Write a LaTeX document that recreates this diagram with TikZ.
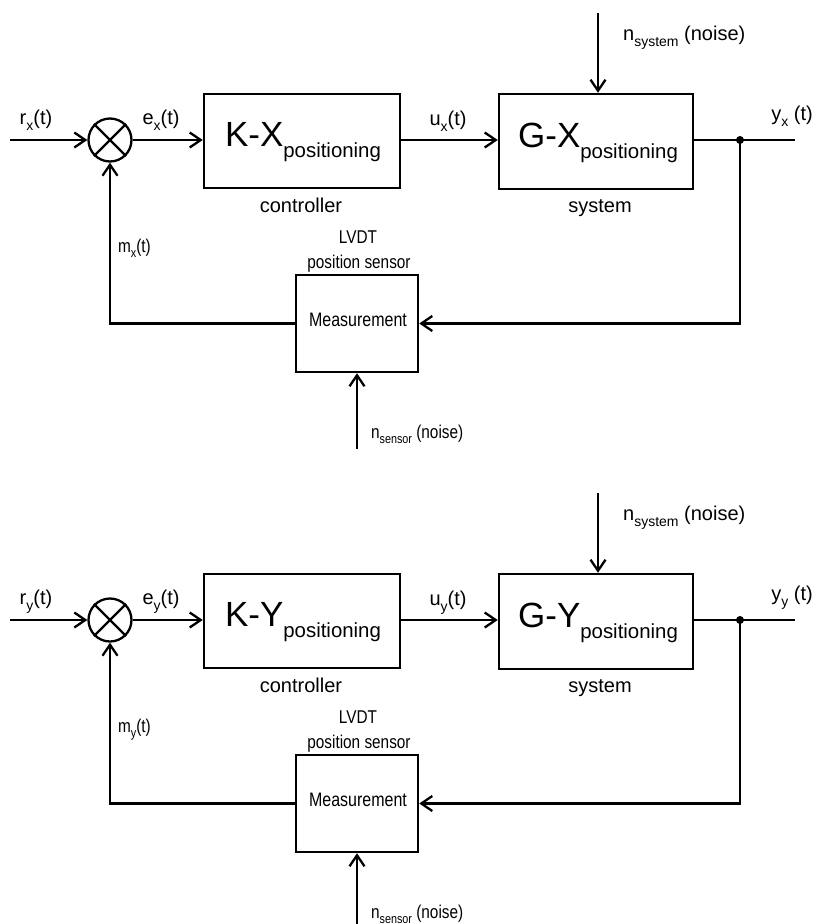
\documentclass[tikz,border=0pt]{standalone}
\usepackage{fontspec}
\setmainfont{Liberation Sans}
\usetikzlibrary{arrows.meta}
\newcommand\bigfs{\fontsize{20}{24}\selectfont}
\newcommand\smfs{\fontsize{18.5}{22}\selectfont}
\newcommand\sbA[1]{\raisebox{-6pt}{\fontsize{14}{16}\selectfont #1}}
\newcommand\sbB[1]{\raisebox{-5pt}{\fontsize{13}{15}\selectfont #1}}
\newcommand\narrow[1]{\scalebox{0.83}[1]{#1}}
\newcommand\blockname[2]{{\fontsize{35}{40}\selectfont #1}\raisebox{-11pt}{\fontsize{20.4}{24}\selectfont #2}}
\begin{document}
\begin{tikzpicture}[x=1pt,y=-1pt,
  line width=2.3pt,
  arr/.style={-{Straight Barb[length=11pt,width=15pt,line width=2.3pt]}},
  blk/.style={draw, line width=2.5pt, inner sep=0pt},
  lbl/.style={inner sep=0pt, anchor=base, font=\bigfs},
  slbl/.style={inner sep=0pt, anchor=base, font=\smfs}]
\useasboundingbox (0,0) rectangle (815,924);
\foreach \s/\U/\l/\dy in {a/X/x/0,b/Y/y/480}{
 \begin{scope}[shift={(0,\dy)}]
  \node[circle,draw,minimum size=43pt,inner sep=0pt] (sum\s) at (110,140) {};
  \draw (sum\s.north west) -- (sum\s.south east) (sum\s.north east) -- (sum\s.south west);
  \coordinate (in\s) at (10,140);
  \node[blk,minimum width=196pt,minimum height=94pt] (K\s) at (302,141) {};
  \node[inner sep=0pt,anchor=base] (Kt\s) at (303,146) {\blockname{K-\U}{positioning}};
  \node[blk,minimum width=194pt,minimum height=95pt] (G\s) at (596,141.5) {};
  \node[inner sep=0pt,anchor=base] (Gt\s) at (598,147) {\blockname{G-\U}{positioning}};
  \coordinate (ns\s) at (598,13);
  \coordinate (dot\s) at (740,140);
  \coordinate (out\s) at (795,140);
  \node[blk,minimum width=122pt,minimum height=97pt] (M\s) at (357,323.5) {};
  \coordinate (nsen\s) at (357,449);
  \draw[arr] (in\s) -- (sum\s.west);
  \draw[arr] (sum\s.east) -- (K\s.west |- sum\s.east);
  \draw[arr] (K\s.east |- sum\s.east) -- (G\s.west |- sum\s.east);
  \draw (G\s.east |- sum\s.east) -- (out\s);
  \fill (dot\s) circle (4pt);
  \draw[arr] (dot\s) |- (M\s.east);
  \draw[arr] (M\s.west) -| (sum\s.south);
  \draw[arr] (ns\s) -- (G\s.north -| ns\s);
  \draw[arr] (nsen\s) -- (M\s.south);
  \node[lbl] (r\s) at (36,124) {r\sbA{\l}(t)};
  \node[lbl] (e\s) at (161,124) {e\sbA{\l}(t)};
  \node[lbl] (u\s) at (448,125) {u\sbA{\l}(t)};
  \node[lbl] (y\s) at (792,120) {y\sbA{\l} (t)};
  \node[lbl,anchor=base west] (nsl\s) at (622,40) {n\sbA{system} (noise)};
  \node[lbl] (c\s) at (301,212) {controller};
  \node[lbl] (sy\s) at (600,212) {system};
  \node[slbl,anchor=base west] (m\s) at (117,252) {\narrow{m\sbB{\l}(t)}};
  \node[slbl] (lv\s) at (358,243) {\narrow{LVDT}};
  \node[slbl] (ps\s) at (359,268) {\narrow{position sensor}};
  \node[inner sep=0pt,anchor=base] (meas\s) at (358,326) {\fontsize{19.5}{22}\selectfont\scalebox{0.82}[1]{Measurement}};
  \node[slbl,anchor=base west] (nse\s) at (370,438) {\narrow{n\sbB{sensor} (noise)}};
 \end{scope}}
\end{tikzpicture}
\end{document}
